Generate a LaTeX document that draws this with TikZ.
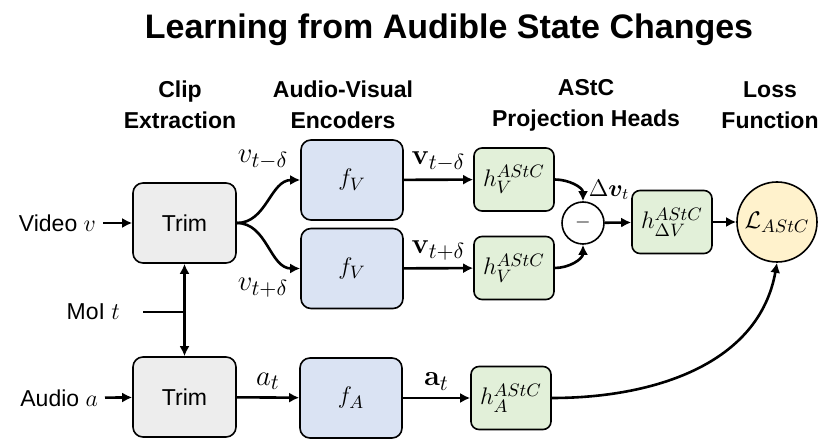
\documentclass[tikz,border=0pt]{standalone}
\usepackage{amsmath}
\usepackage{bm}
\usepackage[no-math]{fontspec}
\setmainfont{Liberation Sans}
\usepackage{xcolor}
\usepackage{tikz}
\usetikzlibrary{arrows.meta, positioning}

\definecolor{trimgray}{HTML}{EDEDED}
\definecolor{encblue}{HTML}{DAE3F3}
\definecolor{headgreen}{HTML}{E2F0D9}
\definecolor{lossyellow}{HTML}{FFF2CC}

\begin{document}
\begin{tikzpicture}[
        x=0.5pt,
        y=0.5pt,
        trimbox/.style={draw,line width=0.8pt,rounded corners=5pt,fill=trimgray,minimum width=51.5pt,minimum height=40pt,font=\fontsize{11.5}{13}\selectfont},
        encbox/.style={draw,line width=0.8pt,rounded corners=5pt,fill=encblue,minimum width=51pt,minimum height=40pt,font=\fontsize{13}{15}\selectfont},
        headbox/.style={draw,line width=0.8pt,rounded corners=4pt,fill=headgreen,minimum width=40pt,minimum height=31.5pt,inner sep=1pt,font=\fontsize{13}{15}\selectfont},
        flow/.style={-{Latex[length=5pt,width=5pt]},line width=1.3pt},
        lbl/.style={font=\fontsize{15}{17}\selectfont},
        txt/.style={font=\fontsize{11.5}{13}\selectfont},
        colhead/.style={align=center,font=\fontsize{11.5}{15.5}\selectfont\bfseries}
    ]
        \useasboundingbox (0,0) rectangle (830,439);
        % titles
        \node[font=\fontsize{17}{19}\selectfont\bfseries] (title) at (449,409) {Learning from Audible State Changes};
        \node[colhead] (hclip) at (180,334) {Clip\\Extraction};
        \node[colhead] (henc) at (343,334) {Audio-Visual\\Encoders};
        \node[colhead] (hproj) at (586,334) {AStC\\Projection Heads};
        \node[colhead] (hloss) at (770,334) {Loss\\Function};
        % blocks
        \node[trimbox] (trim1) at (184.5,216) {Trim};
        \node[trimbox] (trim2) at (184.5,42) {Trim};
        \node[encbox] (fv1) at (352,259) {$f_V$};
        \node[encbox] (fv2) at (352,170.5) {$f_V$};
        \node[encbox] (fa) at (351,41) {$f_A$};
        \node[headbox] (hv1) at (514,259.5) {$h_V^{AStC}$};
        \node[headbox] (hv2) at (514,171) {$h_V^{AStC}$};
        \node[headbox] (ha) at (511,41) {$h_A^{AStC}$};
        \node[draw,circle,line width=0.8pt,fill=white,minimum size=21pt,inner sep=0pt] (minus) at (583,216) {$-$};
        \node[headbox] (hdv) at (672,217) {$h_{\Delta V}^{AStC}$};
        \node[draw,circle,line width=0.8pt,fill=lossyellow,minimum size=40pt,inner sep=0pt,font=\fontsize{12.5}{15}\selectfont] (loss) at (777,217) {$\mathcal{L}_{AStC}$};
        % inputs
        \node[txt,anchor=east] (video) at (103,216) {Video $v$};
        \node[txt,anchor=east] (audio) at (105,41) {Audio $a$};
        \node[txt,anchor=east] (moi) at (127,127) {MoI $t$};
        \coordinate (moij) at (184.5,127);
        \draw[flow] (video) -- (trim1);
        \draw[flow] (audio) -- (trim2);
        \draw[line width=1.3pt] (moi.east) ++(16,0) -- (moij);
        \draw[{Latex[length=5pt,width=5pt]}-{Latex[length=5pt,width=5pt]},line width=1.3pt] (trim1.south) -- (trim2.north);
        % video branch
        \draw[flow] (trim1.east) to[out=0,in=180] (fv1.west);
        \draw[flow] (trim1.east) to[out=0,in=180] (fv2.west);
        \node[lbl] (vminus) at (263,279) {$v_{t-\delta}$};
        \node[lbl] (vplus) at (263,151) {$v_{t+\delta}$};
        \draw[flow] (fv1) -- (hv1) node[lbl,midway,above] {$\mathbf{v}_{t-\delta}$};
        \draw[flow] (fv2) -- (hv2) node[lbl,midway,above] {$\mathbf{v}_{t+\delta}$};
        \draw[flow] (hv1.east) to[out=0,in=90] (minus.north);
        \draw[flow] (hv2.east) to[out=0,in=-90] (minus.south);
        \node[font=\fontsize{12}{14}\selectfont] (dv) at (609,249) {$\Delta\bm{v}_t$};
        \draw[flow] (minus) -- (hdv);
        \draw[flow] (hdv) -- (loss);
        % audio branch
        \draw[flow] (trim2) -- (fa) node[lbl,midway,above] {$a_t$};
        \draw[flow] (fa) -- (ha) node[lbl,midway,above] {$\mathbf{a}_t$};
        \draw[flow] (ha.east) to[out=0,in=-100] (loss.south);
    \end{tikzpicture}
\end{document}
